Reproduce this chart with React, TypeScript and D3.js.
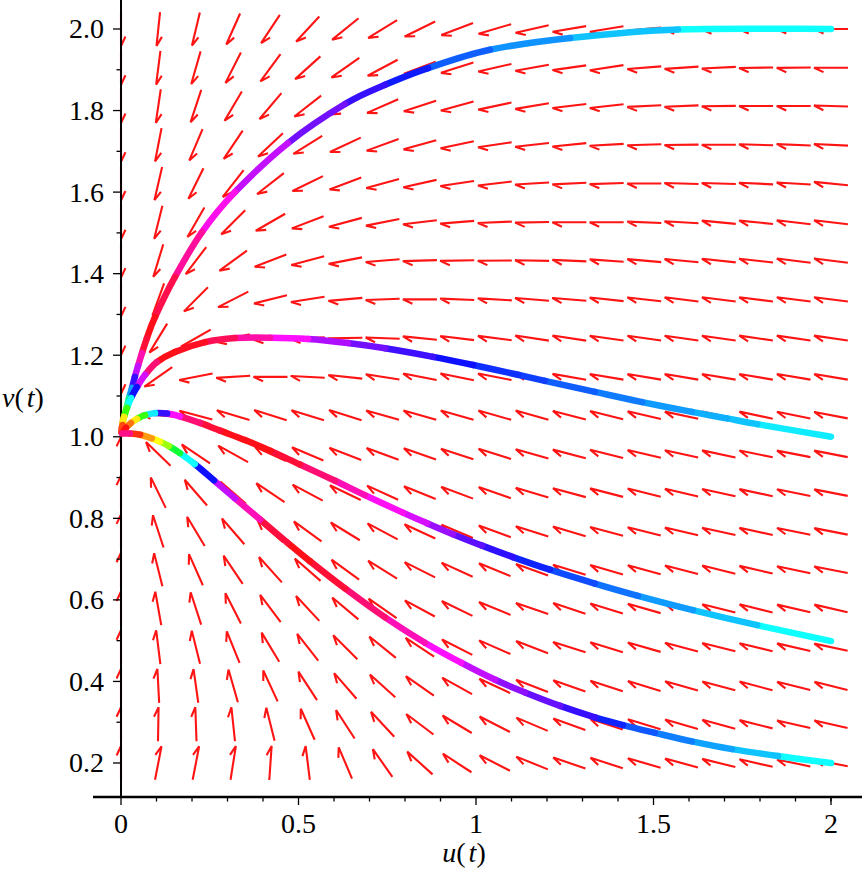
import React from 'react';
import * as d3 from 'd3';

// ---------- data ----------
const X_DOMAIN = [-0.0789, 2.0873];
const Y_DOMAIN = [0.1166, 2.0711];

const X_MAJOR = [0, 0.5, 1, 1.5, 2];
const X_MAJOR_LABELS = ['0', '0.5', '1', '1.5', '2'];
const X_MINOR = [0.1, 0.2, 0.3, 0.4, 0.6, 0.7, 0.8, 0.9, 1.1, 1.2, 1.3, 1.4, 1.6, 1.7, 1.8, 1.9, 2.0];
const Y_MAJOR = [0.2, 0.4, 0.6, 0.8, 1.0, 1.2, 1.4, 1.6, 1.8, 2.0];
const Y_MAJOR_LABELS = ['0.2', '0.4', '0.6', '0.8', '1.0', '1.2', '1.4', '1.6', '1.8', '2.0'];
const Y_MINOR = [0.3, 0.5, 0.7, 0.9, 1.1, 1.3, 1.5, 1.7, 1.9];

// direction-field grid
const GRID_U = [0, 0.105, 0.211, 0.316, 0.421, 0.526, 0.632, 0.737, 0.842, 0.947, 1.053, 1.158, 1.263, 1.368, 1.474, 1.579, 1.684, 1.789, 1.895, 2.0];
const GRID_V = [0.2, 0.295, 0.389, 0.484, 0.579, 0.674, 0.768, 0.863, 0.958, 1.053, 1.147, 1.242, 1.337, 1.432, 1.526, 1.621, 1.716, 1.811, 1.905, 2.0];

// arrow directions (degrees, screen, counter-clockwise from +x), one row per GRID_V value
const ARROW_ANGLES = [
  [90, 79, 79, 81, 86, 97, 113, 125, 138, 147, 153, 158, 161, 162, 164, 165, 166, 167, 168, 169],
  [90, 89, 92, 96, 104, 114, 123, 133, 143, 149, 153, 157, 160, 162, 163, 164, 165, 166, 167, 167],
  [90, 93, 98, 106, 115, 123, 131, 138, 145, 151, 155, 159, 160.5, 162, 163, 164, 165, 165, 166, 166],
  [90, 97, 104, 112, 121, 128, 135, 141, 146.5, 153, 156.5, 159, 162.5, 163, 164, 165, 166, 166.5, 167, 168],
  [90, 100, 108, 117, 127, 133, 140, 145, 151.6, 154, 157.5, 161, 161.5, 163, 164, 165, 166, 166, 167, 167],
  [90, 104, 114, 124, 132, 139, 144, 148, 153.4, 155.5, 157.8, 160, 163, 164, 164.5, 165.5, 166, 167, 168, 169],
  [90, 108, 121, 131, 139, 144, 148.5, 152, 155, 157, 159.8, 162.4, 163.6, 165, 166, 167, 167.5, 168, 168.5, 169],
  [90, 116, 131, 139, 146, 152, 154.5, 155.5, 158.3, 159.4, 160.8, 163.6, 164.7, 165.5, 166, 167, 167.5, 168, 168.5, 169],
  [90, 136, 146, 151, 155.5, 157, 159, 160, 160.8, 162, 162.5, 164, 165.5, 166, 167, 167.5, 168, 168.5, 169, 169],
  [270, 175, 165, 163.3, 162.5, 162.8, 162.5, 164, 164, 164, 164, 164, 165.5, 166, 167, 168, 168, 168, 168.5, 169],
  [270, 215, 191, 183.4, 180, 177, 174, 171, 169, 168.5, 169, 169.5, 170, 170.5, 170.5, 170.5, 170.5, 170.5, 170.5, 170.5],
  [270, 238.6, 209.6, 193, 185.6, 183, 181, 178, 174.3, 173, 172.6, 171.5, 171.5, 172, 172, 172, 172, 171.8, 171.6, 171.6],
  [270, 250, 225, 207, 194, 189, 185, 182, 180, 177.7, 176.6, 175.4, 175.4, 174, 173.5, 173, 173, 173, 172.8, 172.7],
  [270, 253, 232.7, 216, 201, 194.6, 191, 184.6, 181.7, 181, 180.5, 179, 177.5, 176, 175, 174.5, 174, 173.5, 173, 172.7],
  [270, 256, 240, 225, 210, 201, 195, 191.3, 186.8, 184.6, 182.3, 181.1, 180, 180, 177.8, 176.6, 174.5, 174.4, 173.4, 173.4],
  [270, 257, 243.7, 232, 218, 206, 200.7, 195.4, 192.5, 188.5, 186.8, 183.4, 182.9, 181.9, 180, 178.3, 178.3, 177.2, 176.6, 174.4],
  [270, 259, 247, 236, 223, 212, 205, 200, 195.5, 191.9, 188.5, 186.3, 185.7, 183.2, 181.7, 180.6, 180, 178.3, 177.8, 177.2],
  [270, 261.6, 251.7, 239.4, 229.8, 218, 210, 203.5, 198, 195.4, 192, 189.6, 186.8, 186.3, 182.9, 182.3, 180.6, 180, 180, 178.3],
  [270, 262.7, 254, 243, 233.8, 222, 215, 208, 200.6, 197.5, 192.8, 190, 188, 188.8, 184.5, 183.9, 182.8, 181, 180.6, 180],
  [270, 264, 256.5, 246, 236.5, 227, 219, 211.6, 206, 201, 196.4, 193, 189.6, 189.5, 185, 183, 182, 181, 180.5, 180],
];

// trajectories: u, v and hue (degrees) of the piece starting at each point
const TRAJ_A_U = [2.0, 1.569, 1.265, 1.039, 0.865, 0.744, 0.631, 0.47, 0.321, 0.228, 0.152, 0.096, 0.073, 0.059, 0.048, 0.039, 0.031, 0.0225, 0.017, 0.0113, 0.0056, 0.0028, 0.0014];
const TRAJ_A_V = [2.0, 1.999, 1.978, 1.949, 1.904, 1.863, 1.816, 1.72, 1.6, 1.502, 1.392, 1.294, 1.242, 1.205, 1.174, 1.147, 1.12, 1.095, 1.076, 1.056, 1.039, 1.024, 1.012];
const TRAJ_A_HUE = [180, 195, 207, 220, 237, 250, 265, 285, 305, 325, 345, 358, 350, 320, 285, 250, 205, 150, 95, 55, 25, 0, 300];

const TRAJ_B_U = [2.0, 1.792, 1.707, 1.608, 1.468, 1.335, 1.194, 1.118, 0.992, 0.879, 0.744, 0.639, 0.527, 0.42, 0.321, 0.237, 0.152, 0.101, 0.068, 0.045, 0.028, 0.017, 0.0085, 0.0042, 0.0014];
const TRAJ_B_V = [1.0, 1.031, 1.045, 1.061, 1.085, 1.11, 1.137, 1.152, 1.176, 1.196, 1.217, 1.23, 1.24, 1.243, 1.242, 1.232, 1.208, 1.183, 1.152, 1.122, 1.095, 1.071, 1.049, 1.029, 1.012];
const TRAJ_B_HUE = [185, 195, 200, 205, 213, 220, 228, 232, 240, 252, 265, 280, 300, 322, 342, 355, 358, 335, 290, 240, 180, 110, 55, 15, 320];

const TRAJ_C_U = [2.0, 1.792, 1.611, 1.456, 1.335, 1.208, 1.104, 1.017, 0.935, 0.862, 0.794, 0.687, 0.603, 0.504, 0.42, 0.349, 0.279, 0.2225, 0.166, 0.13, 0.096, 0.068, 0.045, 0.028, 0.014, 0.003];
const TRAJ_C_V = [0.499, 0.538, 0.575, 0.61, 0.64, 0.674, 0.705, 0.733, 0.761, 0.788, 0.814, 0.857, 0.892, 0.932, 0.966, 0.992, 1.015, 1.034, 1.05, 1.057, 1.058, 1.053, 1.044, 1.034, 1.022, 1.009];
const TRAJ_C_HUE = [180, 195, 205, 215, 225, 235, 248, 260, 275, 290, 303, 318, 335, 350, 358, 358, 350, 335, 300, 250, 185, 110, 55, 25, 0, 300];

const TRAJ_D_U = [2.0, 1.851, 1.721, 1.608, 1.504, 1.414, 1.335, 1.237, 1.138, 1.054, 0.958, 0.856, 0.744, 0.631, 0.532, 0.468, 0.392, 0.321, 0.262, 0.208, 0.166, 0.135, 0.11, 0.087, 0.054, 0.025, 0.003];
const TRAJ_D_V = [0.2, 0.217, 0.234, 0.253, 0.274, 0.293, 0.312, 0.34, 0.373, 0.404, 0.446, 0.495, 0.557, 0.628, 0.695, 0.741, 0.797, 0.849, 0.893, 0.933, 0.96, 0.977, 0.988, 0.996, 1.005, 1.008, 1.008];
const TRAJ_D_HUE = [180, 195, 203, 212, 222, 235, 250, 262, 272, 285, 300, 318, 335, 350, 358, 348, 318, 285, 240, 180, 130, 85, 60, 35, 8, 330, 270];

const TRAJECTORIES = [
  { u: TRAJ_A_U, v: TRAJ_A_V, hue: TRAJ_A_HUE },
  { u: TRAJ_B_U, v: TRAJ_B_V, hue: TRAJ_B_HUE },
  { u: TRAJ_C_U, v: TRAJ_C_V, hue: TRAJ_C_HUE },
  { u: TRAJ_D_U, v: TRAJ_D_V, hue: TRAJ_D_HUE },
];

// ---------- component ----------
const W = 862;
const H = 874;
const FONT = "'Liberation Serif', 'Times New Roman', serif";

export default function App() {
  const x = d3.scaleLinear().domain(X_DOMAIN).range([93, 862]);
  const y = d3.scaleLinear().domain(Y_DOMAIN).range([797, 0]);

  const ARROW_LEN = 34;
  const BARB_LEN = 10.5;
  const BARB_ANG = (25 * Math.PI) / 180;

  const arrows: string[] = [];
  GRID_V.forEach((vv, j) => {
    GRID_U.forEach((uu, i) => {
      const a = (ARROW_ANGLES[j][i] * Math.PI) / 180;
      const dx = Math.cos(a);
      const dy = -Math.sin(a);
      const cx = x(uu);
      const cy = y(vv);
      const tx = cx - (dx * ARROW_LEN) / 2;
      const ty = cy - (dy * ARROW_LEN) / 2;
      const hx = cx + (dx * ARROW_LEN) / 2;
      const hy = cy + (dy * ARROW_LEN) / 2;
      const nx = dy;
      const ny = -dx;
      const bx = hx - dx * BARB_LEN * Math.cos(BARB_ANG) + nx * BARB_LEN * Math.sin(BARB_ANG);
      const by = hy - dy * BARB_LEN * Math.cos(BARB_ANG) + ny * BARB_LEN * Math.sin(BARB_ANG);
      arrows.push(`M${tx.toFixed(2)},${ty.toFixed(2)}L${hx.toFixed(2)},${hy.toFixed(2)}L${bx.toFixed(2)},${by.toFixed(2)}`);
    });
  });

  // smooth (cardinal, tension 0) piece between consecutive points, one colour per piece
  const segs: { d: string; c: string }[] = [];
  TRAJECTORIES.forEach((tr) => {
    const P = tr.u.map((uu, k) => [x(uu), y(tr.v[k])] as [number, number]);
    const n = P.length;
    for (let k = 0; k < n - 1; k++) {
      const p0 = P[Math.max(0, k - 1)];
      const p1 = P[k];
      const p2 = P[k + 1];
      const p3 = P[Math.min(n - 1, k + 2)];
      const c1 = [p1[0] + (p2[0] - p0[0]) / 6, p1[1] + (p2[1] - p0[1]) / 6];
      const c2 = [p2[0] - (p3[0] - p1[0]) / 6, p2[1] - (p3[1] - p1[1]) / 6];
      const d = `M${p1[0]},${p1[1]}C${c1[0]},${c1[1]} ${c2[0]},${c2[1]} ${p2[0]},${p2[1]}`;
      const h = ((tr.hue[k] % 360) + 360) % 360;
      segs.push({ d, c: d3.hsl(h, 1, 0.53).formatHex() });
    }
  });

  const x0 = x(0);
  const axisY = 797;
  const textStyle = { fontFamily: FONT };

  return (
    <svg
      width={W}
      height={H}
      viewBox={`0 0 ${W} ${H}`}
      style={{ position: 'absolute', left: 0, top: 0, background: '#ffffff' }}
    >
      <rect x={0} y={0} width={W} height={H} fill="#ffffff" />
      <g fill="none" stroke="#ff1414" strokeWidth={2.1} strokeLinejoin="miter">
        {arrows.map((d, k) => (
          <path key={k} d={d} />
        ))}
      </g>
      <line x1={93} x2={862} y1={axisY} y2={axisY} stroke="#000" strokeWidth={2.5} />
      <line x1={x0} x2={x0} y1={0} y2={axisY} stroke="#000" strokeWidth={2} />
      {X_MAJOR.map((t) => (
        <line key={'xM' + t} x1={x(t)} x2={x(t)} y1={axisY} y2={axisY + 8} stroke="#000" strokeWidth={1.3} />
      ))}
      {X_MINOR.map((t) => (
        <line key={'xm' + t} x1={x(t)} x2={x(t)} y1={axisY} y2={axisY + 4.5} stroke="#000" strokeWidth={1.3} />
      ))}
      {Y_MAJOR.map((t) => (
        <line key={'yM' + t} x1={x0 - 8} x2={x0} y1={y(t)} y2={y(t)} stroke="#000" strokeWidth={1.3} />
      ))}
      {Y_MINOR.map((t) => (
        <line key={'ym' + t} x1={x0 - 4.5} x2={x0} y1={y(t)} y2={y(t)} stroke="#000" strokeWidth={1.3} />
      ))}
      <g fill="none" strokeWidth={6.5} strokeLinecap="round" strokeLinejoin="round">
        {segs.map((s, k) => (
          <path key={k} d={s.d} stroke={s.c} />
        ))}
      </g>
      {X_MAJOR.map((t, k) => (
        <text key={'xl' + t} x={x(t)} y={833} fontSize={28} textAnchor="middle" fill="#000" style={textStyle}>
          {X_MAJOR_LABELS[k]}
        </text>
      ))}
      {Y_MAJOR.map((t, k) => (
        <text key={'yl' + t} x={104} y={y(t) + 9.5} fontSize={28} textAnchor="end" fill="#000" style={textStyle}>
          {Y_MAJOR_LABELS[k]}
        </text>
      ))}
      <text x={464} y={862} fontSize={28} textAnchor="middle" fill="#000" style={textStyle}>
        <tspan fontStyle="italic">u</tspan>
        <tspan>(</tspan>
        <tspan fontStyle="italic" dx={3}>t</tspan>
        <tspan>)</tspan>
      </text>
      <text x={2} y={407} fontSize={28} textAnchor="start" fill="#000" style={textStyle}>
        <tspan fontStyle="italic">v</tspan>
        <tspan>(</tspan>
        <tspan fontStyle="italic" dx={3}>t</tspan>
        <tspan>)</tspan>
      </text>
    </svg>
  );
}
